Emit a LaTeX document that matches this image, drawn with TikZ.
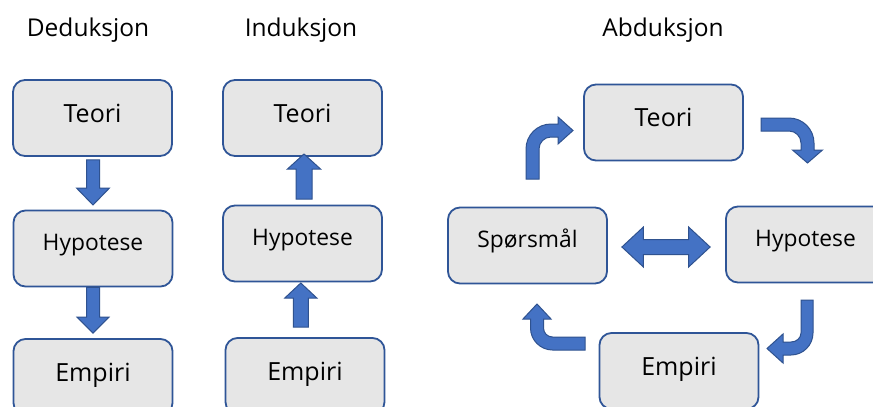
\documentclass[tikz,border=0pt]{standalone}
\usepackage{fontspec}
\setmainfont{Open Sans}
\usetikzlibrary{calc}
\definecolor{boxfill}{HTML}{E6E6E6}
\definecolor{boxline}{HTML}{2F5597}
\definecolor{arrfill}{HTML}{4472C4}
\definecolor{arrline}{HTML}{2F528F}
\tikzset{
  box/.style={draw=boxline, fill=boxfill, line width=1.8pt, rounded corners=12pt,
    minimum width=159pt, minimum height=76pt, inner sep=0pt},
  big/.style={font=\fontsize{25}{30}\selectfont, text height=13pt, text depth=5pt},
  mid/.style={font=\fontsize{22.8}{27}\selectfont, text height=10pt, text depth=7pt},
  ttl/.style={font=\fontsize{24.5}{29}\selectfont, anchor=base, inner sep=0pt},
  blk/.style={fill=arrfill, draw=arrline, line width=1pt, line join=miter},
}
% straight block arrow: start, tip, shaft half width, head half width, head length
\newcommand\varrow[5]{%
  \coordinate (tmpH) at ($(#2)!#5pt!(#1)$);
  \draw[blk] ($(#1)!#3pt!90:(#2)$) -- ($(tmpH)!#3pt!90:(#2)$) -- ($(tmpH)!#4pt!90:(#2)$)
    -- (#2) -- ($(tmpH)!#4pt!-90:(#2)$) -- ($(tmpH)!#3pt!-90:(#2)$)
    -- ($(#1)!#3pt!-90:(#2)$) -- cycle;}
% double block arrow: left tip, right tip, shaft half, head half, head length
\newcommand\dblarrow[5]{%
  \coordinate (tmpA) at ($(#1)!#5pt!(#2)$);
  \coordinate (tmpB) at ($(#2)!#5pt!(#1)$);
  \draw[blk] (#1) -- ($(tmpA)!#4pt!90:(#2)$) -- ($(tmpA)!#3pt!90:(#2)$)
    -- ($(tmpB)!#3pt!-90:(#1)$) -- ($(tmpB)!#4pt!-90:(#1)$) -- (#2)
    -- ($(tmpB)!#4pt!90:(#1)$) -- ($(tmpB)!#3pt!90:(#1)$)
    -- ($(tmpA)!#3pt!-90:(#2)$) -- ($(tmpA)!#4pt!-90:(#2)$) -- cycle;}
\begin{document}
\begin{tikzpicture}[x=1pt,y=-1pt]
\fill[white] (0,0) rectangle (873,407);
\useasboundingbox (0,0) rectangle (873,407);

% titles
\node[ttl] (t1) at (88,36) {Deduksjon};
\node[ttl] (t2) at (301,36) {Induksjon};
\node[ttl] (t3) at (663,36) {Abduksjon};

% Deduksjon
\node[box,big] (dT) at (92.5,118) {Teori};
\node[box,mid] (dH) at (93,248.5) {Hypotese};
\node[box,big] (dE) at (93,377) {Empiri};
% Induksjon
\node[box,big] (iT) at (302.5,118) {Teori};
\node[box,mid] (iH) at (302.5,243.5) {Hypotese};
\node[box,big] (iE) at (305,376) {Empiri};
% Abduksjon
\node[box,big] (aT) at (663.5,122.5) {Teori};
\node[box,mid] (aS) at (527.5,245.5) {Spørsmål};
\node[box,mid] (aH) at (805.5,244.5) {Hypotese};
\node[box,big] (aE) at (679,371) {Empiri};

% Deduksjon arrows
\coordinate (d1a) at ($(dT.south)+(0.5,3)$);
\coordinate (d1b) at ($(dH.north)+(0,-4.6)$);
\varrow{d1a}{d1b}{6.5}{16.5}{17}
\coordinate (d2a) at ($(dH.south)+(0,0)$);
\coordinate (d2b) at ($(dE.north)+(0,-5)$);
\varrow{d2a}{d2b}{6.5}{16}{16}

% Induksjon arrows
\coordinate (i1a) at ($(iH.north)+(1.5,-5.6)$);
\coordinate (i1b) at ($(iT.south)+(1.5,-2.9)$);
\varrow{i1a}{i1b}{8}{16.5}{15}
\coordinate (i2a) at ($(iE.north)+(-4.2,-10)$);
\coordinate (i2b) at ($(iH.south)+(-1.7,0.6)$);
\varrow{i2a}{i2b}{7.5}{16}{15}

% Abduksjon double arrow
\coordinate (dl) at ($(aS.east)+(14,1.5)$);
\coordinate (dr) at ($(aH.west)+(-15,2.5)$);
\dblarrow{dl}{dr}{7.5}{20}{21.5}

% bent arrows
\draw[blk] (526,179) -- (526,149) .. controls (526,135.2) and (537.2,124) .. (551,124)
  -- (558,124) -- (558,117) -- (573,130.5) -- (558,144) -- (558,137) -- (551,137)
  .. controls (544.4,137) and (539,142.4) .. (539,149) -- (539,179) -- cycle;
\draw[blk] (761,118) -- (789,118) .. controls (802.8,118) and (814,129.2) .. (814,143)
  -- (814,150) -- (822.5,150) -- (807.5,163) -- (792.5,150) -- (801,150) -- (801,143)
  .. controls (801,136.4) and (795.6,131) .. (789,131) -- (761,131) -- cycle;
\draw[blk] (801,300) -- (813,300) -- (813,333) .. controls (813,345.1) and (803.1,355) .. (791,355)
  -- (783,355) -- (783,363) -- (767,348.5) -- (783,334) -- (783,342) -- (791,342)
  .. controls (796.5,342) and (801,338) .. (801,333) -- cycle;
\draw[blk] (585,337) -- (585,350) -- (552.5,350) .. controls (540.4,350) and (530.5,340.1) .. (530.5,328)
  -- (530.5,319) -- (523,319) -- (537,304) -- (551,319) -- (543.5,319) -- (543.5,328)
  .. controls (543.5,333) and (547.5,337) .. (552.5,337) -- cycle;
\end{tikzpicture}
\end{document}
